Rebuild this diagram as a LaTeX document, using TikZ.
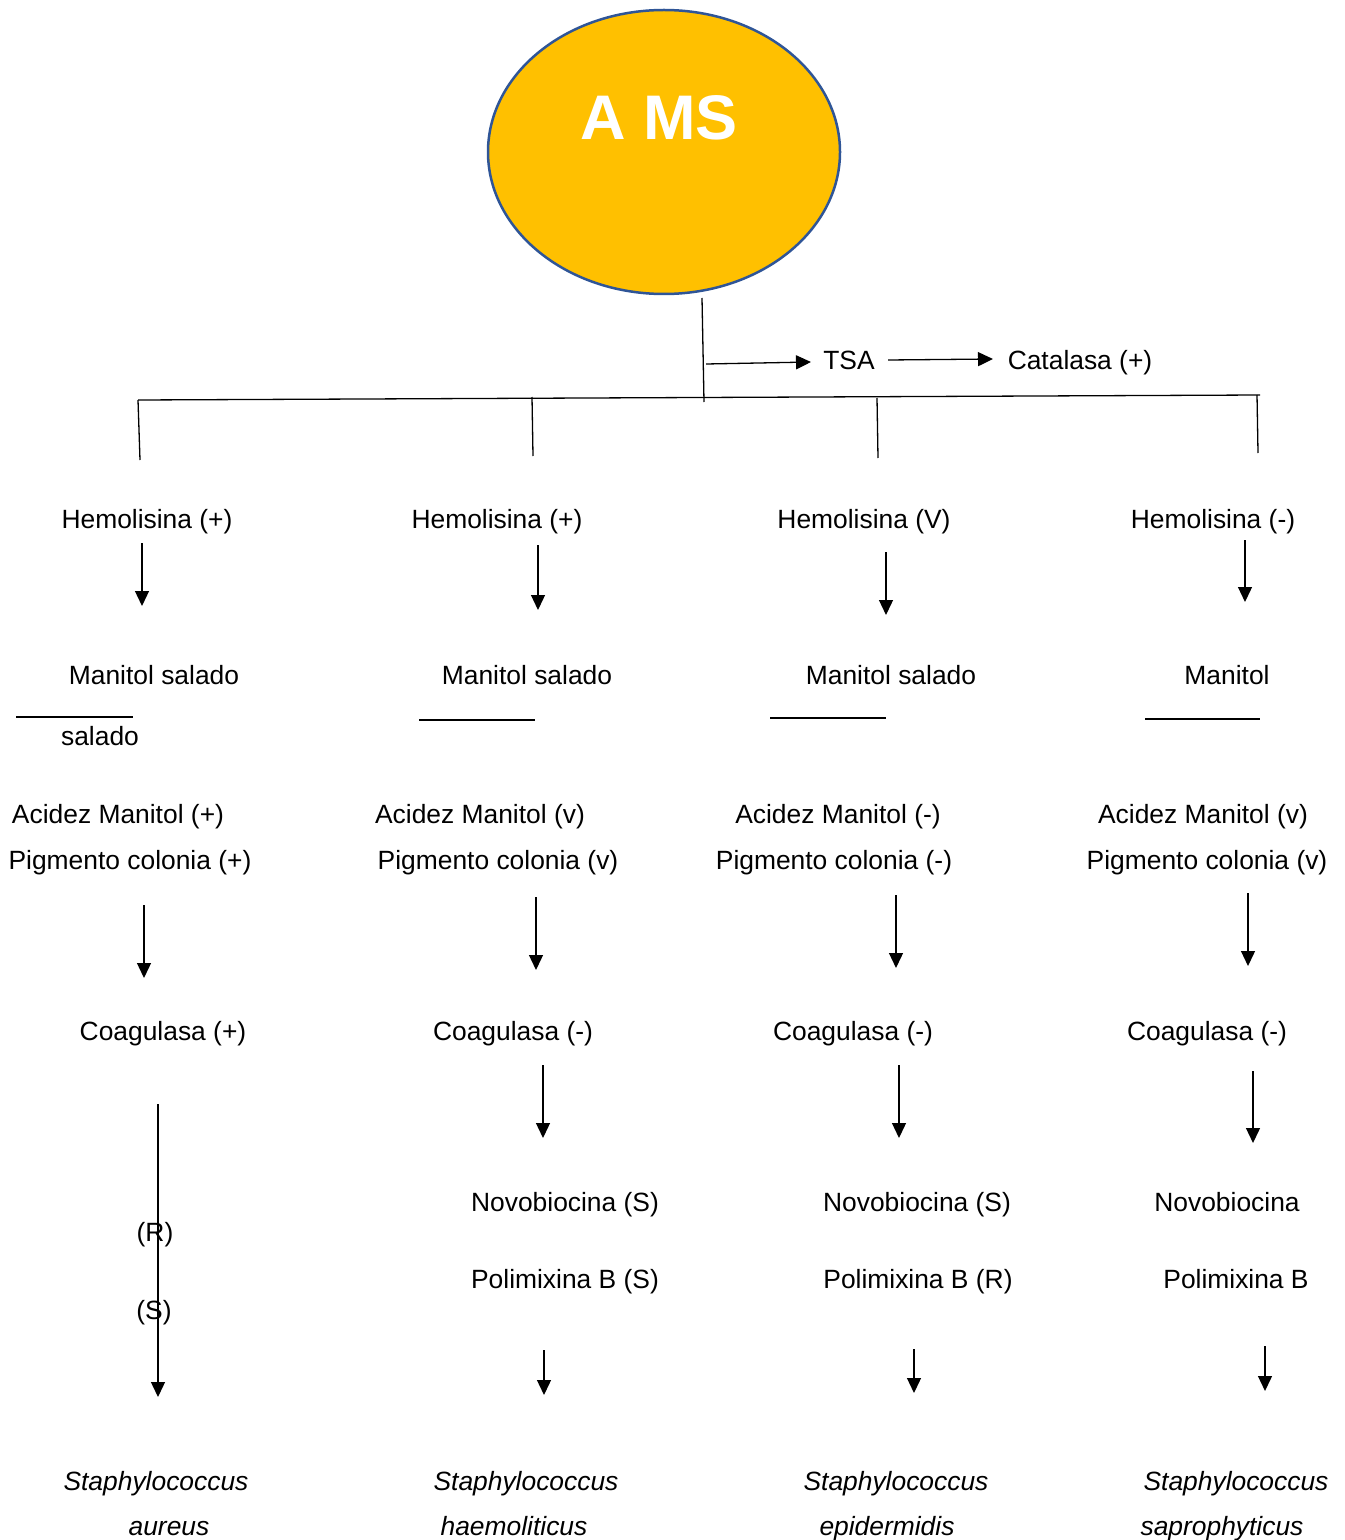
\documentclass[tikz,border=0pt]{standalone}
\usepackage{fontspec}
\setmainfont{Liberation Sans}
\usetikzlibrary{arrows.meta,shapes.geometric}
\definecolor{amsfill}{HTML}{FFC000}
\definecolor{amsline}{HTML}{2F5597}
\begin{document}
\begin{tikzpicture}[x=0.5pt,y=-0.5pt,
 lbl/.style={inner sep=0pt, font=\fontsize{13.2}{15}\selectfont, anchor=base, yshift=-4.5pt},
 sp/.style={inner sep=0pt, font=\fontsize{13.2}{15}\selectfont\itshape, anchor=base, yshift=-4.5pt},
 ln/.style={line width=0.65pt},
 arr/.style={ln, -{Triangle[width=7pt,length=7.5pt]}}]
\useasboundingbox (0,0) rectangle (1344,1540);
% top ellipse
\node[ellipse, draw=amsline, fill=amsfill, line width=1.25pt, minimum width=176pt, minimum height=142pt, inner sep=0pt] (ams) at (664,152) {};
\node[inner sep=0pt, text=white, font=\fontsize{31.5}{36}\selectfont\bfseries] (amst) at (659,118) {A MS};
% trunk
\coordinate (t0) at (702,298);
\coordinate (t1) at (704,402);
\draw[ln] (t0) -- (t1);
\coordinate (h0) at (138,400);
\coordinate (h1) at (1260,395);
\draw[ln] (h0) -- (h1);
% TSA
\node[lbl] (tsa) at (849,361) {TSA};
\node[lbl] (cat) at (1080,361) {Catalasa (+)};
\coordinate (a0) at (706,364);
\coordinate (a1) at (811,362);
\draw[arr] (a0) -- (a1);
\coordinate (b0) at (888,360);
\coordinate (b1) at (993,359);
\draw[arr] (b0) -- (b1);
% drops
\coordinate (d1a) at (138,400); \coordinate (d1b) at (140,460);
\coordinate (d2a) at (532,397); \coordinate (d2b) at (533,456);
\coordinate (d3a) at (877,398); \coordinate (d3b) at (878,458);
\coordinate (d4a) at (1257,395); \coordinate (d4b) at (1258,453);
\draw[ln] (d1a) -- (d1b);
\draw[ln] (d2a) -- (d2b);
\draw[ln] (d3a) -- (d3b);
\draw[ln] (d4a) -- (d4b);
% ---------- column 1
\node[lbl] (h1t) at (147,519) {Hemolisina (+)};
\coordinate (c1a0) at (142,543); \coordinate (c1a1) at (142,606);
\draw[arr] (c1a0) -- (c1a1);
\node[lbl] (m1) at (154,675) {Manitol salado};
\coordinate (u1a) at (16,717); \coordinate (u1b) at (133,717);
\draw[ln] (u1a) -- (u1b);
\node[lbl] (s1) at (100,736) {salado};
\node[lbl] (ac1) at (118,814) {Acidez Manitol (+)};
\node[lbl] (pg1) at (130,860) {Pigmento colonia (+)};
\coordinate (c1b0) at (144,905); \coordinate (c1b1) at (144,978);
\draw[arr] (c1b0) -- (c1b1);
\node[lbl] (co1) at (163,1031) {Coagulasa (+)};
\coordinate (c1c0) at (158,1104); \coordinate (c1c1) at (158,1397);
\draw[arr] (c1c0) -- (c1c1);
\node[lbl] (r1) at (155,1232) {(R)};
\node[lbl] (q1) at (154,1310) {(S)};
\node[sp] (sa1) at (156,1481) {Staphylococcus};
\node[sp] (sb1) at (169,1526) {aureus};
% ---------- column 2
\node[lbl] (h2t) at (497,519) {Hemolisina (+)};
\coordinate (c2a0) at (538,545); \coordinate (c2a1) at (538,610);
\draw[arr] (c2a0) -- (c2a1);
\node[lbl] (m2) at (527,675) {Manitol salado};
\coordinate (u2a) at (419,720); \coordinate (u2b) at (535,720);
\draw[ln] (u2a) -- (u2b);
\node[lbl] (ac2) at (480,814) {Acidez Manitol (v)};
\node[lbl] (pg2) at (498,860) {Pigmento colonia (v)};
\coordinate (c2b0) at (536,897); \coordinate (c2b1) at (536,970);
\draw[arr] (c2b0) -- (c2b1);
\node[lbl] (co2) at (513,1031) {Coagulasa (-)};
\coordinate (c2c0) at (543,1065); \coordinate (c2c1) at (543,1138);
\draw[arr] (c2c0) -- (c2c1);
\node[lbl] (n2) at (565,1202) {Novobiocina (S)};
\node[lbl] (p2) at (565,1279) {Polimixina B (S)};
\coordinate (c2d0) at (544,1350); \coordinate (c2d1) at (544,1395);
\draw[arr] (c2d0) -- (c2d1);
\node[sp] (sa2) at (526,1481) {Staphylococcus};
\node[sp] (sb2) at (514,1526) {haemoliticus};
% ---------- column 3
\node[lbl] (h3t) at (864,519) {Hemolisina (V)};
\coordinate (c3a0) at (886,552); \coordinate (c3a1) at (886,615);
\draw[arr] (c3a0) -- (c3a1);
\node[lbl] (m3) at (891,675) {Manitol salado};
\coordinate (u3a) at (770,718); \coordinate (u3b) at (886,718);
\draw[ln] (u3a) -- (u3b);
\node[lbl] (ac3) at (838,814) {Acidez Manitol (-)};
\node[lbl] (pg3) at (834,860) {Pigmento colonia (-)};
\coordinate (c3b0) at (896,895); \coordinate (c3b1) at (896,968);
\draw[arr] (c3b0) -- (c3b1);
\node[lbl] (co3) at (853,1031) {Coagulasa (-)};
\coordinate (c3c0) at (899,1065); \coordinate (c3c1) at (899,1138);
\draw[arr] (c3c0) -- (c3c1);
\node[lbl] (n3) at (917,1202) {Novobiocina (S)};
\node[lbl] (p3) at (918,1279) {Polimixina B (R)};
\coordinate (c3d0) at (914,1349); \coordinate (c3d1) at (914,1393);
\draw[arr] (c3d0) -- (c3d1);
\node[sp] (sa3) at (896,1481) {Staphylococcus};
\node[sp] (sb3) at (887,1526) {epidermidis};
% ---------- column 4
\node[lbl] (h4t) at (1213,519) {Hemolisina (-)};
\coordinate (c4a0) at (1245,540); \coordinate (c4a1) at (1245,602);
\draw[arr] (c4a0) -- (c4a1);
\node[lbl] (m4) at (1227,675) {Manitol};
\coordinate (u4a) at (1145,719); \coordinate (u4b) at (1260,719);
\draw[ln] (u4a) -- (u4b);
\node[lbl] (ac4) at (1203,814) {Acidez Manitol (v)};
\node[lbl] (pg4) at (1207,860) {Pigmento colonia (v)};
\coordinate (c4b0) at (1248,893); \coordinate (c4b1) at (1248,966);
\draw[arr] (c4b0) -- (c4b1);
\node[lbl] (co4) at (1207,1031) {Coagulasa (-)};
\coordinate (c4c0) at (1253,1071); \coordinate (c4c1) at (1253,1143);
\draw[arr] (c4c0) -- (c4c1);
\node[lbl] (n4) at (1227,1202) {Novobiocina};
\node[lbl] (p4) at (1236,1279) {Polimixina B};
\coordinate (c4d0) at (1265,1346); \coordinate (c4d1) at (1265,1391);
\draw[arr] (c4d0) -- (c4d1);
\node[sp] (sa4) at (1236,1481) {Staphylococcus};
\node[sp] (sb4) at (1222,1526) {saprophyticus};
\end{tikzpicture}
\end{document}
